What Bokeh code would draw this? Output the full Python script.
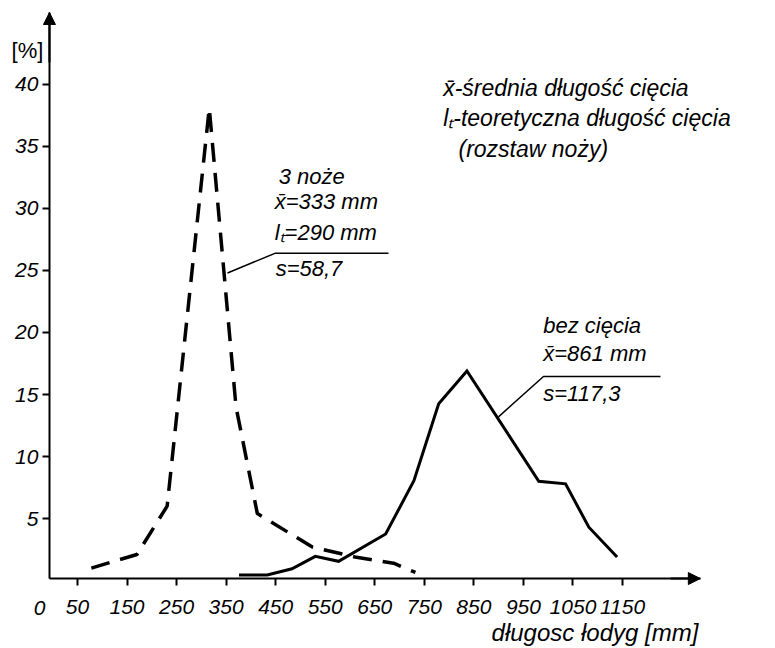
from bokeh.plotting import figure
from bokeh.models import Range1d, FixedTicker, Label, Arrow, NormalHead
from bokeh.embed import file_html
from bokeh.resources import INLINE

# ---- data ----
x_3_noze = [78, 170, 231, 316, 370, 413, 524, 610, 688, 732]
y_3_noze = [1.0, 2.1, 6.0, 38.1, 14.0, 5.4, 2.7, 1.9, 1.4, 0.65]

x_bez = [376, 433, 483, 530, 577, 672, 729, 779, 836, 981, 1035, 1082, 1139]
y_bez = [0.45, 0.45, 0.95, 1.95, 1.55, 3.75, 8.05, 14.25, 16.9, 8.0, 7.8, 4.3, 1.9]

x_ticks = [50, 150, 250, 350, 450, 550, 650, 750, 850, 950, 1050, 1150]
x_tick_labels = ["50", "150", "250", "350", "450", "550", "650", "750", "850", "950", "1050", "1150"]
y_ticks = [5, 10, 15, 20, 25, 30, 35, 40]
y_tick_labels = ["5", "10", "15", "20", "25", "30", "35", "40"]

legend_lines = ["x\u0304-średnia  długość cięcia",
                "l\u209c-teoretyczna długość cięcia",
                "(rozstaw  noży)"]
noze_lines = ["3 noże", "x\u0304=333 mm", "l\u209c=290 mm", "s=58,7"]
bez_lines = ["bez cięcia", "x\u0304=861 mm", "s=117,3"]
x_title = "długosc łodyg [mm]"
y_title = "[%]"

FONT = "Liberation Sans"

# axis extents (data units) and visible window
AX_X0, AX_X1 = -6.5, 1307
AX_Y0, AX_Y1 = 0.16, 45.8

p = figure(width=775, height=648, output_backend="svg", toolbar_location=None,
           x_range=Range1d(-105.3, 1458.7), y_range=Range1d(-5.48, 46.77),
           min_border=0, min_border_left=0, min_border_right=0,
           min_border_top=0, min_border_bottom=0)
p.outline_line_color = None
p.xgrid.visible = False
p.ygrid.visible = False
p.background_fill_color = "white"
p.border_fill_color = "white"

p.xaxis.fixed_location = AX_Y0
p.xaxis.bounds = (AX_X0, AX_X1)
p.yaxis.fixed_location = AX_X0
p.yaxis.bounds = (AX_Y0, AX_Y1)

for ax, ticks, labels in ((p.xaxis, x_ticks, x_tick_labels), (p.yaxis, y_ticks, y_tick_labels)):
    ax.ticker = FixedTicker(ticks=ticks, minor_ticks=[])
    ax.major_label_overrides = {t: l for t, l in zip(ticks, labels)}
    ax.axis_line_width = 2
    ax.axis_line_color = "black"
    ax.major_tick_line_width = 2
    ax.major_tick_line_color = "black"
    ax.major_tick_in = 0
    ax.major_tick_out = 7
    ax.minor_tick_line_color = None
    ax.major_label_text_font = FONT
    ax.major_label_text_font_style = "italic"
    ax.major_label_text_font_size = "21px"
    ax.major_label_text_color = "black"
p.xaxis.major_label_standoff = 14
p.yaxis.major_label_standoff = 4

# arrow heads on the axes
p.add_layout(Arrow(end=NormalHead(size=12, fill_color="black", line_color="black"),
                   x_start=AX_X1 - 60, y_start=AX_Y0, x_end=AX_X1, y_end=AX_Y0, line_width=2))
p.add_layout(Arrow(end=NormalHead(size=12, fill_color="black", line_color="black"),
                   x_start=AX_X0, y_start=AX_Y1 - 4, x_end=AX_X0, y_end=AX_Y1, line_width=2))

# curves
p.line(x_3_noze, y_3_noze, line_color="black", line_width=3.5, line_dash="19 11")
p.line(x_bez, y_bez, line_color="black", line_width=3, line_join="miter")

def lab(x, y, t, size="23px", align="left", style="italic"):
    p.add_layout(Label(x=x, y=y, text=t, text_font=FONT, text_font_style=style,
                       text_font_size=size, text_align=align, text_baseline="middle",
                       text_color="black"))

# explanation block
for t, (x, y) in zip(legend_lines, [(788, 39.7), (788, 37.3), (819, 34.8)]):
    lab(x, y, t)

# 3 noze annotation
for t, (x, y) in zip(noze_lines, [(456, 32.6), (448, 30.6), (448, 28.1), (450, 25.2)]):
    lab(x, y, t, size="22px")
p.line([352.8, 449.6, 677.7], [24.8, 26.4, 26.4], line_color="black", line_width=1.5)

# bez ciecia annotation
for t, (x, y) in zip(bez_lines, [(990, 20.6), (990, 18.3), (990, 15.1)]):
    lab(x, y, t, size="22px")
p.line([899.7, 990.5, 1226.6], [13.2, 16.45, 16.45], line_color="black", line_width=1.5)

# axis texts
lab(-26.6, -2.2, "0", size="21px", align="center")
lab(-51, 42.7, y_title, size="22px", align="center", style="normal")
lab(1303, -4.2, x_title, size="24px", align="right")

open("out.html", "w").write(file_html(p, INLINE))
